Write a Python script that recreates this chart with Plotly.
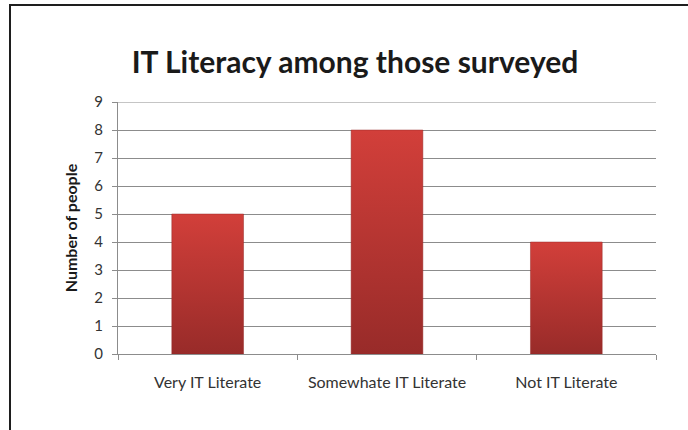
import plotly.graph_objects as go

# Survey results
categories = ["Very IT Literate", "Somewhate IT Literate", "Not IT Literate"]
counts = [5, 8, 4]
y_ticks = list(range(0, 10))
y_max = 9

BAR_HALF_WIDTH = 0.2
FONT = "Lato"
GRID = "#8c8c8c"

fig = go.Figure()

# Each bar is a filled rectangle with a vertical red gradient (dark at base, lighter at top)
for i, (cat, val) in enumerate(zip(categories, counts)):
    x0, x1 = i - BAR_HALF_WIDTH, i + BAR_HALF_WIDTH
    fig.add_trace(go.Scatter(
        x=[x0, x0, x1, x1, x0],
        y=[0, val, val, 0, 0],
        mode="lines",
        line=dict(color="rgba(150,40,38,0.6)", width=0.8),
        fill="toself",
        fillgradient=dict(
            type="vertical",
            colorscale=[[0, "#982b29"], [1, "#d23f3a"]],
            start=0,
            stop=val,
        ),
        name=cat,
        hoverinfo="text",
        text=f"{cat}: {val}",
        showlegend=False,
    ))

fig.update_layout(
    width=688,
    height=430,
    margin=dict(l=118, r=32, t=102, b=76),
    paper_bgcolor="white",
    plot_bgcolor="white",
    font=dict(family=FONT, color="#333333"),
    title=dict(
        text="<b>IT Literacy among those surveyed</b>",
        x=355 / 688,
        xanchor="center",
        y=1 - 62 / 430,
        yanchor="middle",
        font=dict(family=FONT, size=30, color="#1a1a1a"),
    ),
    xaxis=dict(
        range=[-0.5, 2.5],
        tickvals=list(range(len(categories))),
        ticktext=categories,
        ticks="",
        showgrid=False,
        zeroline=False,
        showline=True,
        linecolor=GRID,
        linewidth=1,
        tickfont=dict(family=FONT, size=16, color="#333333"),
        ticklabelstandoff=14,
        minor=dict(
            tickvals=[-0.5, 0.5, 1.5, 2.5],
            ticks="outside",
            ticklen=5,
            tickcolor=GRID,
            showgrid=False,
        ),
        fixedrange=True,
    ),
    yaxis=dict(
        range=[0, y_max],
        tickvals=y_ticks,
        ticks="outside",
        ticklen=5,
        tickcolor=GRID,
        showgrid=True,
        gridcolor=GRID,
        gridwidth=1,
        zeroline=False,
        showline=True,
        linecolor=GRID,
        linewidth=1,
        tickfont=dict(family=FONT, size=15, color="#333333"),
        ticklabelstandoff=6,
        title=dict(
            text="<b>Number of people</b>",
            font=dict(family=FONT, size=16, color="#1a1a1a"),
            standoff=12,
        ),
        fixedrange=True,
    ),
    shapes=[
        # Top gridline at the axis maximum
        dict(
            type="line",
            xref="paper", yref="y",
            x0=0, x1=1, y0=y_max, y1=y_max,
            line=dict(color=GRID, width=1),
            layer="below",
        ),
        # Outer chart frame
        dict(
            type="rect",
            xref="paper", yref="paper",
            x0=(10 - 118) / 538, x1=(700 - 118) / 538,
            y0=(354 - 440) / 252, y1=(354 - 5) / 252,
            line=dict(color="#1e1e1e", width=2),
            fillcolor="rgba(0,0,0,0)",
            layer="below",
        ),
    ],
)

fig.write_html("out.html")
